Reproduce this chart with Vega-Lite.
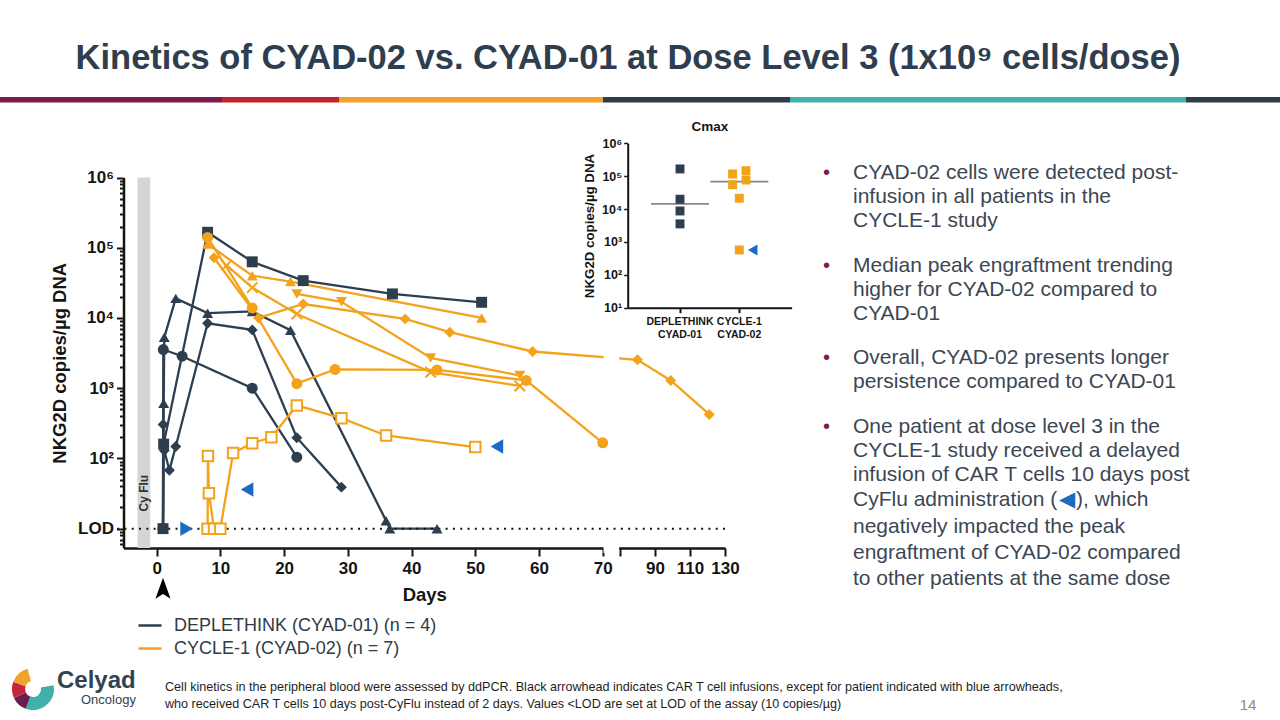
{
  "$schema": "https://vega.github.io/schema/vega-lite/v6.json",
  "width": 1280,
  "height": 720,
  "autosize": {"type": "none"},
  "padding": 0,
  "background": "white",
  "config": {
    "view": {"stroke": null},
    "font": "Liberation Sans",
    "axis": {"grid": false, "domainColor": "#151515", "tickColor": "#151515", "labelColor": "#151515", "titleColor": "#151515", "labelFontWeight": "bold", "titleFontWeight": "bold", "labelFont": "Liberation Sans", "titleFont": "Liberation Sans"}
  },
  "datasets": {
    "kin": [
      {"patient": "D1", "study": "DEPLETHINK", "day": 1, "value": 10},
      {"patient": "D1", "study": "DEPLETHINK", "day": 1.1, "value": 160},
      {"patient": "D1", "study": "DEPLETHINK", "day": 8, "value": 166000},
      {"patient": "D1", "study": "DEPLETHINK", "day": 15, "value": 63000},
      {"patient": "D1", "study": "DEPLETHINK", "day": 23, "value": 34000},
      {"patient": "D1", "study": "DEPLETHINK", "day": 37, "value": 22000},
      {"patient": "D1", "study": "DEPLETHINK", "day": 51, "value": 16700},
      {"patient": "D2", "study": "DEPLETHINK", "day": 1, "value": 10},
      {"patient": "D2", "study": "DEPLETHINK", "day": 1.05, "value": 3550},
      {"patient": "D2", "study": "DEPLETHINK", "day": 4, "value": 2850},
      {"patient": "D2", "study": "DEPLETHINK", "day": 15, "value": 1000},
      {"patient": "D2", "study": "DEPLETHINK", "day": 22, "value": 104},
      {"patient": "D3", "study": "DEPLETHINK", "day": 1, "value": 10},
      {"patient": "D3", "study": "DEPLETHINK", "day": 1.1, "value": 612},
      {"patient": "D3", "study": "DEPLETHINK", "day": 1.2, "value": 5300},
      {"patient": "D3", "study": "DEPLETHINK", "day": 3, "value": 19000},
      {"patient": "D3", "study": "DEPLETHINK", "day": 8, "value": 11700},
      {"patient": "D3", "study": "DEPLETHINK", "day": 15, "value": 12400},
      {"patient": "D3", "study": "DEPLETHINK", "day": 21, "value": 6700},
      {"patient": "D3", "study": "DEPLETHINK", "day": 36, "value": 13},
      {"patient": "D3", "study": "DEPLETHINK", "day": 36.6, "value": 10},
      {"patient": "D3", "study": "DEPLETHINK", "day": 44, "value": 10},
      {"patient": "D4", "study": "DEPLETHINK", "day": 1, "value": 10},
      {"patient": "D4", "study": "DEPLETHINK", "day": 1.02, "value": 305},
      {"patient": "D4", "study": "DEPLETHINK", "day": 1.2, "value": 130},
      {"patient": "D4", "study": "DEPLETHINK", "day": 2, "value": 68},
      {"patient": "D4", "study": "DEPLETHINK", "day": 3, "value": 148},
      {"patient": "D4", "study": "DEPLETHINK", "day": 8, "value": 8400},
      {"patient": "D4", "study": "DEPLETHINK", "day": 15, "value": 6760},
      {"patient": "D4", "study": "DEPLETHINK", "day": 22, "value": 197},
      {"patient": "D4", "study": "DEPLETHINK", "day": 29, "value": 39},
      {"patient": "C1", "study": "CYCLE-1", "day": 8, "value": 140000},
      {"patient": "C1", "study": "CYCLE-1", "day": 15, "value": 13900},
      {"patient": "C1", "study": "CYCLE-1", "day": 22, "value": 1160},
      {"patient": "C1", "study": "CYCLE-1", "day": 28, "value": 1850},
      {"patient": "C1", "study": "CYCLE-1", "day": 44, "value": 1820},
      {"patient": "C1", "study": "CYCLE-1", "day": 58, "value": 1290},
      {"patient": "C1", "study": "CYCLE-1", "day": 70, "value": 167},
      {"patient": "C2", "study": "CYCLE-1", "day": 8, "value": 113000},
      {"patient": "C2", "study": "CYCLE-1", "day": 15, "value": 40000},
      {"patient": "C2", "study": "CYCLE-1", "day": 21, "value": 33000},
      {"patient": "C2", "study": "CYCLE-1", "day": 51, "value": 10000},
      {"patient": "C3", "study": "CYCLE-1", "day": 9, "value": 72000},
      {"patient": "C3", "study": "CYCLE-1", "day": 16, "value": 10000},
      {"patient": "C3", "study": "CYCLE-1", "day": 23, "value": 15800},
      {"patient": "C3", "study": "CYCLE-1", "day": 39, "value": 9700},
      {"patient": "C3", "study": "CYCLE-1", "day": 46, "value": 6270},
      {"patient": "C3", "study": "CYCLE-1", "day": 59, "value": 3330},
      {"patient": "C3", "study": "CYCLE-1", "day": 80, "value": 2540},
      {"patient": "C3", "study": "CYCLE-1", "day": 99, "value": 1290},
      {"patient": "C3", "study": "CYCLE-1", "day": 121, "value": 423},
      {"patient": "C4", "study": "CYCLE-1", "day": 11, "value": 56000},
      {"patient": "C4", "study": "CYCLE-1", "day": 15, "value": 27000},
      {"patient": "C4", "study": "CYCLE-1", "day": 22, "value": 11400},
      {"patient": "C4", "study": "CYCLE-1", "day": 43, "value": 1690},
      {"patient": "C4", "study": "CYCLE-1", "day": 57, "value": 1075},
      {"patient": "C5", "study": "CYCLE-1", "day": 22, "value": 22000},
      {"patient": "C5", "study": "CYCLE-1", "day": 29, "value": 17000},
      {"patient": "C5", "study": "CYCLE-1", "day": 43, "value": 2700},
      {"patient": "C5", "study": "CYCLE-1", "day": 57, "value": 1515},
      {"patient": "C6", "study": "CYCLE-1", "day": 8, "value": 10},
      {"patient": "C6", "study": "CYCLE-1", "day": 8.05, "value": 108},
      {"patient": "C6", "study": "CYCLE-1", "day": 8.2, "value": 32},
      {"patient": "C6", "study": "CYCLE-1", "day": 9, "value": 10},
      {"patient": "C6", "study": "CYCLE-1", "day": 10, "value": 10},
      {"patient": "C6", "study": "CYCLE-1", "day": 12, "value": 119},
      {"patient": "C6", "study": "CYCLE-1", "day": 15, "value": 165},
      {"patient": "C6", "study": "CYCLE-1", "day": 18, "value": 200},
      {"patient": "C6", "study": "CYCLE-1", "day": 22, "value": 568},
      {"patient": "C6", "study": "CYCLE-1", "day": 29, "value": 374},
      {"patient": "C6", "study": "CYCLE-1", "day": 36, "value": 212},
      {"patient": "C6", "study": "CYCLE-1", "day": 50, "value": 145}
    ],
    "arrows": [
      {"day": 4.7, "value": 10, "dir": "right"},
      {"day": 14.2, "value": 36, "dir": "left"},
      {"day": 53.4, "value": 148, "dir": "left"}
    ],
    "cmax": [
      {"study": "DEPLETHINK", "patient": "D1", "cmax": 166000, "lane": "center"},
      {"study": "DEPLETHINK", "patient": "D3", "cmax": 19900, "lane": "center"},
      {"study": "DEPLETHINK", "patient": "D4", "cmax": 8750, "lane": "center"},
      {"study": "DEPLETHINK", "patient": "D2", "cmax": 3550, "lane": "center"},
      {"study": "CYCLE-1", "patient": "C1", "cmax": 147000, "lane": "right"},
      {"study": "CYCLE-1", "patient": "C2", "cmax": 117000, "lane": "left"},
      {"study": "CYCLE-1", "patient": "C3", "cmax": 76500, "lane": "right"},
      {"study": "CYCLE-1", "patient": "C4", "cmax": 55000, "lane": "left"},
      {"study": "CYCLE-1", "patient": "C5", "cmax": 21300, "lane": "center"},
      {"study": "CYCLE-1", "patient": "C6", "cmax": 571, "lane": "center"}
    ],
    "medians": [
      {"study": "DEPLETHINK", "cmax": 14300},
      {"study": "CYCLE-1", "cmax": 68000}
    ],
    "band": [
      {"seg": "s1", "share": 222},
      {"seg": "s2", "share": 117},
      {"seg": "s3", "share": 264},
      {"seg": "s4", "share": 187},
      {"seg": "s5", "share": 396},
      {"seg": "s6", "share": 94}
    ],
    "logo": [
      {"part": "g1", "k": 1, "deg": 80},
      {"part": "teal", "k": 2, "deg": 120},
      {"part": "maroon", "k": 3, "deg": 45},
      {"part": "red", "k": 4, "deg": 45},
      {"part": "orange", "k": 5, "deg": 55},
      {"part": "g2", "k": 6, "deg": 15}
    ]
  },
  "layer": [
    {
      "data": {"name": "band"},
      "transform": [{"stack": "share", "groupby": [], "sort": [{"field": "seg", "order": "ascending"}], "as": ["b0", "b1"]}],
      "mark": {"type": "rect"},
      "encoding": {
        "x": {"field": "b0", "type": "quantitative", "scale": {"domain": [0, 1280], "range": [0, 1280], "nice": false, "zero": false}, "axis": null},
        "x2": {"field": "b1"},
        "y": {"value": 97},
        "y2": {"value": 102.5},
        "color": {"field": "seg", "type": "nominal", "scale": {"domain": ["s1", "s2", "s3", "s4", "s5", "s6"], "range": ["#7a1d4e", "#c4222f", "#f2a22a", "#2f3e4d", "#40b2a9", "#2f3e4d"]}, "legend": null}
      }
    },
    {
      "data": {"values": [{"t": "Kinetics of CYAD-02 vs. CYAD-01 at Dose Level 3 (1x10⁹ cells/dose)"}]},
      "mark": {"type": "text", "x": 628, "y": 69, "align": "center", "baseline": "alphabetic", "fontSize": 34.5, "fontWeight": "bold", "color": "#2f3e4e", "font": "Liberation Sans"},
      "encoding": {"text": {"field": "t"}}
    },
    {
      "resolve": {"scale": {"shape": "independent"}},
      "layer": [
        {
          "data": {"values": [{"phase": "Cy Flu", "start": -3, "end": -1}]},
          "mark": {"type": "rect", "color": "#d5d5d5"},
          "encoding": {
            "x": {"field": "start", "type": "quantitative", "scale": {"type": "linear", "domain": [-5.2, 70, 70.001, 130], "range": [123.5, 602.7, 620, 725], "nice": false, "zero": false}, "axis": {"orient": "bottom", "offset": -172, "values": [0, 10, 20, 30, 40, 50, 60, 70, 70.001, 90, 110, 130], "labelExpr": "datum.value > 70 && datum.value < 71 ? '' : format(datum.value, 'd')", "labelFontSize": 17, "labelPadding": 4, "labelOverlap": false, "labelFlush": false, "tickSize": 8, "tickWidth": 2, "domainWidth": 2.5, "title": "Days", "titleFontSize": 18.5, "titlePadding": 9}},
            "x2": {"field": "end"},
            "y": {"datum": 5.3, "type": "quantitative", "scale": {"type": "log", "domain": [5.3, 1000000], "range": [548, 177.5], "nice": false}, "axis": {"orient": "left", "offset": -123.5, "values": [6, 7, 8, 9, 10, 20, 30, 40, 50, 60, 70, 80, 90, 100, 200, 300, 400, 500, 600, 700, 800, 900, 1000, 2000, 3000, 4000, 5000, 6000, 7000, 8000, 9000, 10000, 20000, 30000, 40000, 50000, 60000, 70000, 80000, 90000, 100000, 200000, 300000, 400000, 500000, 600000, 700000, 800000, 900000, 1000000], "labelExpr": "datum.value == 10 ? 'LOD' : datum.value == 100 ? '10²' : datum.value == 1000 ? '10³' : datum.value == 10000 ? '10⁴' : datum.value == 100000 ? '10⁵' : datum.value == 1000000 ? '10⁶' : ''", "labelFontSize": 17, "labelPadding": 3, "labelOverlap": false, "tickSize": {"condition": {"test": "datum.value == 10 || datum.value == 100 || datum.value == 1000 || datum.value == 10000 || datum.value == 100000 || datum.value == 1000000", "value": 7}, "value": 4}, "tickWidth": 2, "domainWidth": 2.5, "title": "NKG2D copies/µg DNA", "titleFontSize": 18.5, "titlePadding": 8}},
            "y2": {"datum": 1000000}
          }
        },
        {
          "data": {"values": [{"label": "Cy Flu"}]},
          "mark": {"type": "text", "angle": 270, "fontSize": 12, "fontWeight": "bold", "color": "#333333", "align": "center", "baseline": "middle"},
          "encoding": {
            "text": {"field": "label"},
            "x": {"datum": -2, "type": "quantitative", "scale": {"type": "linear", "domain": [-5.2, 70, 70.001, 130], "range": [123.5, 602.7, 620, 725], "nice": false, "zero": false}},
            "y": {"datum": 32, "type": "quantitative", "scale": {"type": "log", "domain": [5.3, 1000000], "range": [548, 177.5], "nice": false}}
          }
        },
        {
          "data": {"name": "kin"},
          "mark": {"type": "line", "strokeWidth": 2.3},
          "encoding": {
            "x": {"field": "day", "type": "quantitative", "scale": {"type": "linear", "domain": [-5.2, 70, 70.001, 130], "range": [123.5, 602.7, 620, 725], "nice": false, "zero": false}},
            "y": {"field": "value", "type": "quantitative", "scale": {"type": "log", "domain": [5.3, 1000000], "range": [548, 177.5], "nice": false}},
            "color": {"field": "study", "type": "nominal", "scale": {"domain": ["DEPLETHINK", "CYCLE-1"], "range": ["#2d3e4f", "#f2a31b"]}, "legend": {"orient": "none", "legendX": 137, "legendY": 612.5, "title": null, "symbolType": "stroke", "symbolSize": 529, "symbolStrokeWidth": 2.5, "labelFontSize": 18, "labelFont": "Liberation Sans", "labelColor": "#2f3b47", "labelOffset": 11, "labelLimit": 500, "rowPadding": 1, "padding": 0, "labelExpr": "datum.value == 'DEPLETHINK' ? 'DEPLETHINK (CYAD-01) (n = 4)' : 'CYCLE-1 (CYAD-02) (n = 7)'"}},
            "detail": {"field": "patient", "type": "nominal"}
          }
        },
        {
          "data": {"values": [{"gap": "axis break"}]},
          "mark": {"type": "rect", "color": "white"},
          "encoding": {
            "x": {"datum": 70.00005, "type": "quantitative", "scale": {"type": "linear", "domain": [-5.2, 70, 70.001, 130], "range": [123.5, 602.7, 620, 725], "nice": false, "zero": false}},
            "x2": {"datum": 70.00095},
            "y": {"datum": 4.5, "type": "quantitative", "scale": {"type": "log", "domain": [5.3, 1000000], "range": [548, 177.5], "nice": false}},
            "y2": {"datum": 9000}
          }
        },
        {
          "data": {"values": [{"lod": 10}]},
          "mark": {"type": "rule", "strokeDash": [2, 5.3], "strokeWidth": 2, "color": "#111111"},
          "encoding": {
            "x": {"datum": -6.2, "type": "quantitative", "scale": {"type": "linear", "domain": [-5.2, 70, 70.001, 130], "range": [123.5, 602.7, 620, 725], "nice": false, "zero": false}},
            "x2": {"datum": 130},
            "y": {"field": "lod", "type": "quantitative", "scale": {"type": "log", "domain": [5.3, 1000000], "range": [548, 177.5], "nice": false}}
          }
        },
        {
          "data": {"name": "kin"},
          "transform": [{"filter": "datum.patient != 'C4' && datum.patient != 'C6'"}],
          "mark": {"type": "point", "filled": true, "size": 120, "opacity": 1},
          "encoding": {
            "x": {"field": "day", "type": "quantitative", "scale": {"type": "linear", "domain": [-5.2, 70, 70.001, 130], "range": [123.5, 602.7, 620, 725], "nice": false, "zero": false}},
            "y": {"field": "value", "type": "quantitative", "scale": {"type": "log", "domain": [5.3, 1000000], "range": [548, 177.5], "nice": false}},
            "color": {"field": "study", "type": "nominal", "scale": {"domain": ["DEPLETHINK", "CYCLE-1"], "range": ["#2d3e4f", "#f2a31b"]}, "legend": null},
            "shape": {"field": "patient", "type": "nominal", "scale": {"domain": ["D1", "D2", "D3", "D4", "C1", "C2", "C3", "C4", "C5", "C6"], "range": ["square", "circle", "triangle-up", "diamond", "circle", "triangle-up", "diamond", "M-1,-1L1,1M-1,1L1,-1", "triangle-down", "square"]}, "legend": null}
          }
        },
        {
          "data": {"name": "kin"},
          "transform": [{"filter": "datum.patient == 'C4' || datum.patient == 'C6'"}],
          "mark": {"type": "point", "filled": false, "fill": "white", "size": 110, "strokeWidth": 2, "opacity": 1},
          "encoding": {
            "x": {"field": "day", "type": "quantitative", "scale": {"type": "linear", "domain": [-5.2, 70, 70.001, 130], "range": [123.5, 602.7, 620, 725], "nice": false, "zero": false}},
            "y": {"field": "value", "type": "quantitative", "scale": {"type": "log", "domain": [5.3, 1000000], "range": [548, 177.5], "nice": false}},
            "color": {"field": "study", "type": "nominal", "scale": {"domain": ["DEPLETHINK", "CYCLE-1"], "range": ["#2d3e4f", "#f2a31b"]}, "legend": null},
            "shape": {"field": "patient", "type": "nominal", "scale": {"domain": ["D1", "D2", "D3", "D4", "C1", "C2", "C3", "C4", "C5", "C6"], "range": ["square", "circle", "triangle-up", "diamond", "circle", "triangle-up", "diamond", "M-1,-1L1,1M-1,1L1,-1", "triangle-down", "square"]}, "legend": null}
          }
        },
        {
          "data": {"name": "arrows"},
          "mark": {"type": "point", "filled": true, "size": 210, "color": "#1c6bc2", "opacity": 1},
          "encoding": {
            "x": {"field": "day", "type": "quantitative", "scale": {"type": "linear", "domain": [-5.2, 70, 70.001, 130], "range": [123.5, 602.7, 620, 725], "nice": false, "zero": false}},
            "y": {"field": "value", "type": "quantitative", "scale": {"type": "log", "domain": [5.3, 1000000], "range": [548, 177.5], "nice": false}},
            "shape": {"field": "dir", "type": "nominal", "scale": {"domain": ["right", "left"], "range": ["triangle-right", "triangle-left"]}, "legend": null}
          }
        },
        {
          "data": {"values": [{"event": "CAR T infusion", "day": 1}]},
          "mark": {"type": "point", "filled": true, "size": 441, "color": "#000000", "opacity": 1, "shape": "M0,-1L0.72,1L0,0.55L-0.72,1Z"},
          "encoding": {
            "x": {"field": "day", "type": "quantitative", "scale": {"type": "linear", "domain": [-5.2, 70, 70.001, 130], "range": [123.5, 602.7, 620, 725], "nice": false, "zero": false}},
            "y": {"datum": 1.415, "type": "quantitative", "scale": {"type": "log", "domain": [5.3, 1000000], "range": [548, 177.5], "nice": false}}
          }
        }
      ]
    },
    {
      "layer": [
        {
          "data": {"name": "medians"},
          "mark": {"type": "tick", "size": 58, "thickness": 1.8, "color": "#555555"},
          "encoding": {
            "x": {"field": "study", "type": "nominal", "scale": {"type": "band", "domain": ["DEPLETHINK", "CYCLE-1"], "range": [627.7, 791.6], "paddingInner": 0, "paddingOuter": 0.382}, "axis": {"orient": "bottom", "offset": -412.3, "title": null, "labelExpr": "datum.value == 'DEPLETHINK' ? ['DEPLETHINK', 'CYAD-01'] : ['CYCLE-1', 'CYAD-02']", "labelFontSize": 10.5, "labelLineHeight": 12.5, "labelAngle": 0, "labelPadding": 4, "tickSize": 5, "tickWidth": 2, "domainWidth": 2, "zindex": 1}},
            "y": {"field": "cmax", "type": "quantitative", "scale": {"type": "log", "domain": [10, 1000000], "range": [307.7, 143.3], "nice": false}, "axis": {"orient": "left", "offset": -627.7, "values": [10, 100, 1000, 10000, 100000, 1000000], "labelExpr": "datum.value == 10 ? '10¹' : datum.value == 100 ? '10²' : datum.value == 1000 ? '10³' : datum.value == 10000 ? '10⁴' : datum.value == 100000 ? '10⁵' : '10⁶'", "labelFontSize": 12.5, "labelPadding": 2, "tickSize": 4, "tickWidth": 1.5, "domainWidth": 2, "title": "NKG2D copies/µg DNA", "titleFontSize": 13.3, "titlePadding": 5, "zindex": 1}}
          }
        },
        {
          "data": {"name": "cmax"},
          "mark": {"type": "square", "size": 80, "opacity": 1},
          "encoding": {
            "x": {"field": "study", "type": "nominal", "scale": {"type": "band", "domain": ["DEPLETHINK", "CYCLE-1"], "range": [627.7, 791.6], "paddingInner": 0, "paddingOuter": 0.382}},
            "xOffset": {"field": "lane", "type": "nominal", "scale": {"type": "point", "domain": ["left", "center", "right", "arrow"], "range": [22.95, 43.05], "padding": 0}},
            "y": {"field": "cmax", "type": "quantitative", "scale": {"type": "log", "domain": [10, 1000000], "range": [307.7, 143.3], "nice": false}},
            "color": {"field": "study", "type": "nominal", "scale": {"domain": ["DEPLETHINK", "CYCLE-1"], "range": ["#2d3e4f", "#f2a31b"]}, "legend": null}
          }
        },
        {
          "data": {"values": [{"study": "CYCLE-1", "cmax": 571, "lane": "arrow"}]},
          "mark": {"type": "point", "shape": "triangle-left", "filled": true, "size": 120, "color": "#1c6bc2", "opacity": 1},
          "encoding": {
            "x": {"field": "study", "type": "nominal", "scale": {"type": "band", "domain": ["DEPLETHINK", "CYCLE-1"], "range": [627.7, 791.6], "paddingInner": 0, "paddingOuter": 0.382}},
            "xOffset": {"field": "lane", "type": "nominal", "scale": {"type": "point", "domain": ["left", "center", "right", "arrow"], "range": [22.95, 43.05], "padding": 0}},
            "y": {"field": "cmax", "type": "quantitative", "scale": {"type": "log", "domain": [10, 1000000], "range": [307.7, 143.3], "nice": false}}
          }
        }
      ]
    },
    {
      "data": {"values": [{"t": "Cmax"}]},
      "mark": {"type": "text", "x": 710, "y": 131, "align": "center", "baseline": "alphabetic", "fontSize": 13.5, "fontWeight": "bold", "color": "#151515"},
      "encoding": {"text": {"field": "t"}}
    },
    {
      "data": {"values": [{"t": "•"}]},
      "mark": {"type": "text", "x": 823, "y": 178.5, "align": "left", "baseline": "alphabetic", "fontSize": 20, "color": "#7a1d4e"},
      "encoding": {"text": {"field": "t"}}
    },
    {
      "data": {"values": [{"t": "•"}]},
      "mark": {"type": "text", "x": 823, "y": 271.5, "align": "left", "baseline": "alphabetic", "fontSize": 20, "color": "#7a1d4e"},
      "encoding": {"text": {"field": "t"}}
    },
    {
      "data": {"values": [{"t": "•"}]},
      "mark": {"type": "text", "x": 823, "y": 363.5, "align": "left", "baseline": "alphabetic", "fontSize": 20, "color": "#7a1d4e"},
      "encoding": {"text": {"field": "t"}}
    },
    {
      "data": {"values": [{"t": "•"}]},
      "mark": {"type": "text", "x": 823, "y": 432.5, "align": "left", "baseline": "alphabetic", "fontSize": 20, "color": "#7a1d4e"},
      "encoding": {"text": {"field": "t"}}
    },
    {
      "data": {"values": [{"t": "CYAD-02 cells were detected post-\ninfusion in all patients in the\nCYCLE-1 study"}]},
      "mark": {"type": "text", "x": 853, "y": 178.5, "align": "left", "baseline": "alphabetic", "fontSize": 21, "lineBreak": "\n", "lineHeight": 24.4, "color": "#3b4754"},
      "encoding": {"text": {"field": "t"}}
    },
    {
      "data": {"values": [{"t": "Median peak engraftment trending\nhigher for CYAD-02 compared to\nCYAD-01"}]},
      "mark": {"type": "text", "x": 853, "y": 271.5, "align": "left", "baseline": "alphabetic", "fontSize": 21, "lineBreak": "\n", "lineHeight": 24.4, "color": "#3b4754"},
      "encoding": {"text": {"field": "t"}}
    },
    {
      "data": {"values": [{"t": "Overall, CYAD-02 presents longer\npersistence compared to CYAD-01"}]},
      "mark": {"type": "text", "x": 853, "y": 363.5, "align": "left", "baseline": "alphabetic", "fontSize": 21, "lineBreak": "\n", "lineHeight": 24.4, "color": "#3b4754"},
      "encoding": {"text": {"field": "t"}}
    },
    {
      "data": {"values": [{"t": "One patient at dose level 3 in the\nCYCLE-1 study received a delayed\ninfusion of CAR T cells 10 days post"}]},
      "mark": {"type": "text", "x": 853, "y": 432.5, "align": "left", "baseline": "alphabetic", "fontSize": 21, "lineBreak": "\n", "lineHeight": 24.4, "color": "#3b4754"},
      "encoding": {"text": {"field": "t"}}
    },
    {
      "data": {"values": [{"t": "CyFlu administration ("}]},
      "mark": {"type": "text", "x": 853, "y": 505.7, "align": "left", "baseline": "alphabetic", "fontSize": 21, "color": "#3b4754"},
      "encoding": {"text": {"field": "t"}}
    },
    {
      "data": {"values": [{"t": "◀"}]},
      "mark": {"type": "text", "x": 1059, "y": 505.7, "align": "left", "baseline": "alphabetic", "fontSize": 21, "color": "#1c6bc2"},
      "encoding": {"text": {"field": "t"}}
    },
    {
      "data": {"values": [{"t": "), which"}]},
      "mark": {"type": "text", "x": 1076, "y": 505.7, "align": "left", "baseline": "alphabetic", "fontSize": 21, "color": "#3b4754"},
      "encoding": {"text": {"field": "t"}}
    },
    {
      "data": {"values": [{"t": "negatively impacted the peak\nengraftment of CYAD-02 compared\nto other patients at the same dose"}]},
      "mark": {"type": "text", "x": 853, "y": 533, "align": "left", "baseline": "alphabetic", "fontSize": 21, "lineBreak": "\n", "lineHeight": 26, "color": "#3b4754"},
      "encoding": {"text": {"field": "t"}}
    },
    {
      "data": {"values": [{"t": "Cell kinetics in the peripheral blood were assessed by ddPCR. Black arrowhead indicates CAR T cell infusions, except for patient indicated with blue arrowheads,\nwho received CAR T cells 10 days post-CyFlu instead of 2 days. Values <LOD are set at LOD of the assay (10 copies/µg)"}]},
      "mark": {"type": "text", "x": 165, "y": 691, "align": "left", "baseline": "alphabetic", "fontSize": 12.6, "lineBreak": "\n", "lineHeight": 16.5, "color": "#1e1e1e"},
      "encoding": {"text": {"field": "t"}}
    },
    {
      "data": {"values": [{"t": "14"}]},
      "mark": {"type": "text", "x": 1248, "y": 710, "align": "center", "baseline": "alphabetic", "fontSize": 15, "color": "#8a8a8a"},
      "encoding": {"text": {"field": "t"}}
    },
    {
      "data": {"values": [{"t": "Celyad"}]},
      "mark": {"type": "text", "x": 57, "y": 688, "align": "left", "baseline": "alphabetic", "fontSize": 24, "fontWeight": "bold", "color": "#2f4352"},
      "encoding": {"text": {"field": "t"}}
    },
    {
      "data": {"values": [{"t": "Oncology"}]},
      "mark": {"type": "text", "x": 81, "y": 704, "align": "left", "baseline": "alphabetic", "fontSize": 13, "color": "#2f4352"},
      "encoding": {"text": {"field": "t"}}
    },
    {
      "data": {"name": "logo"},
      "mark": {"type": "arc", "innerRadius": 8, "outerRadius": 21, "x": 33, "y": 689},
      "encoding": {
        "theta": {"field": "deg", "type": "quantitative", "stack": true, "scale": {"domain": [0, 360], "range": [0, 6.2832]}},
        "order": {"field": "k", "type": "quantitative"},
        "color": {"field": "part", "type": "nominal", "scale": {"domain": ["g1", "teal", "maroon", "red", "orange", "g2"], "range": ["rgba(0,0,0,0)", "#3fb1a8", "#6a1f4f", "#c4253a", "#f2a22a", "rgba(0,0,0,0)"]}, "legend": null}
      }
    }
  ],
  "resolve": {
    "scale": {"x": "independent", "y": "independent", "color": "independent", "shape": "independent", "theta": "independent"},
    "axis": {"x": "independent", "y": "independent"},
    "legend": {"color": "independent", "shape": "independent"}
  }
}
